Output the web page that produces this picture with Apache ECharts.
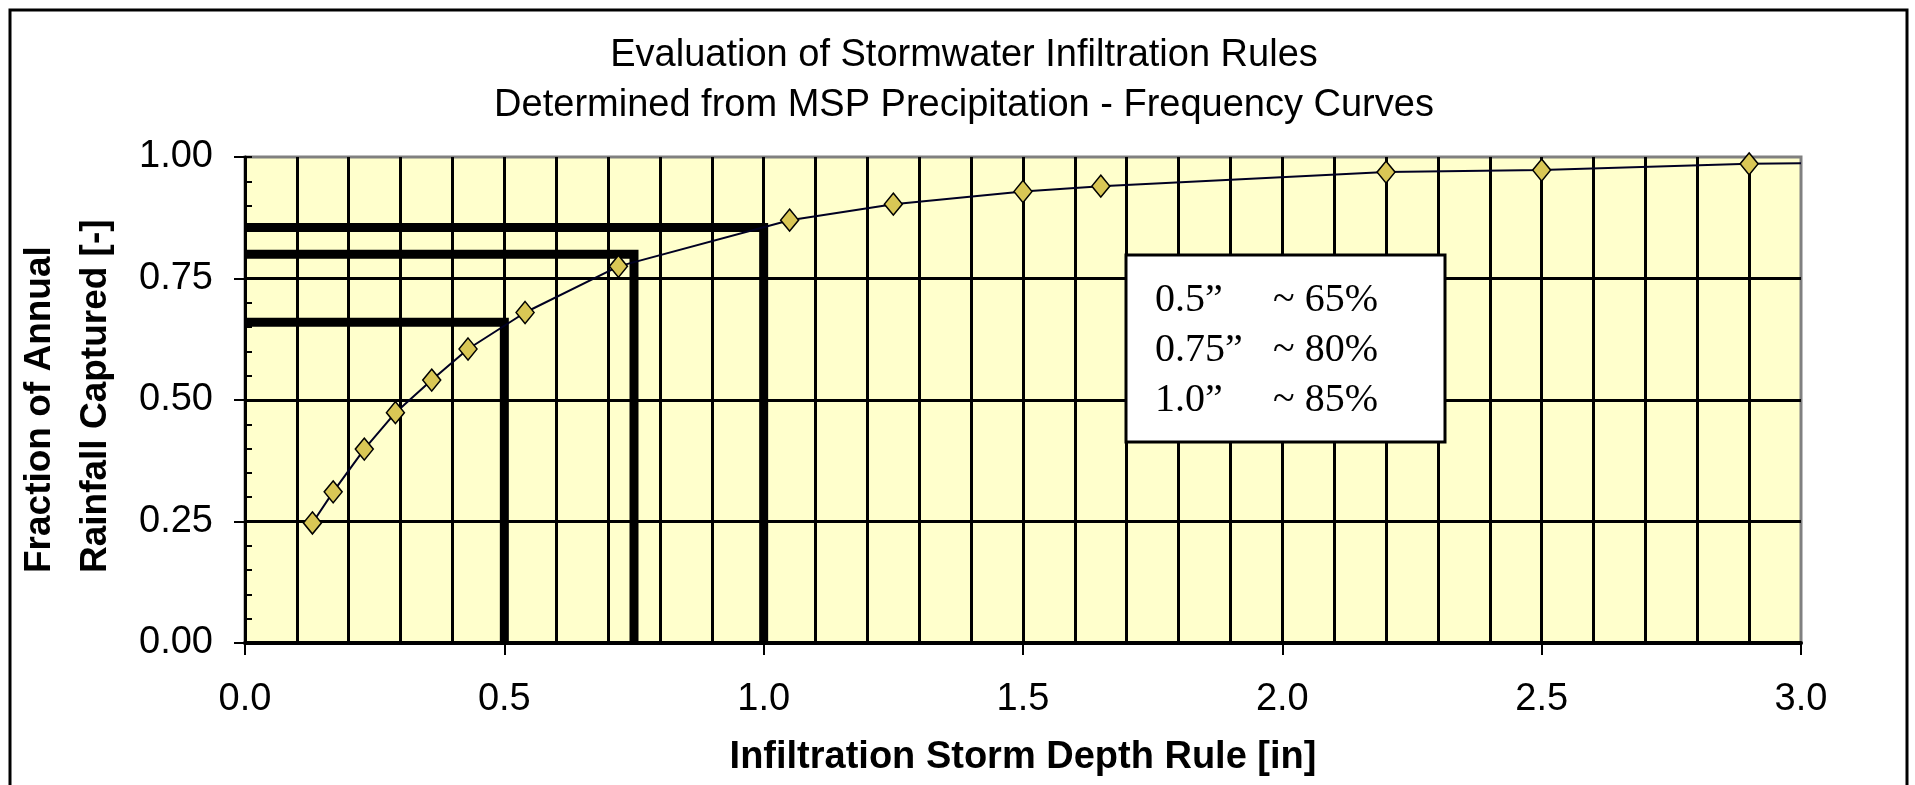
<!DOCTYPE html>
<html>
<head>
<meta charset="utf-8">
<title>Evaluation of Stormwater Infiltration Rules</title>
<script src="https://cdn.jsdelivr.net/npm/echarts@6/dist/echarts.min.js"></script>
<style>
html, body { margin: 0; padding: 0; background: #fff; }
#chart { width: 1915px; height: 785px; }
</style>
</head>
<body>
<div id="chart"></div>
<script>
// values
var curveX = [0.13, 0.17, 0.23, 0.29, 0.36, 0.43, 0.54, 0.72, 1.05, 1.25, 1.5, 1.65, 2.2, 2.5, 2.9];
var curveY = [0.247, 0.311, 0.399, 0.474, 0.541, 0.605, 0.680, 0.775, 0.870, 0.903, 0.929, 0.940, 0.969, 0.973, 0.986];
var curveEnd = [3.0, 0.987]; // line runs on to the edge, no marker
var ruleDepth = [0.5, 0.75, 1.0];
var ruleCapture = [0.66, 0.80, 0.855];
var noteDepth = ['0.5\u201d', '0.75\u201d', '1.0\u201d'];
var notePct = ['~ 65%', '~ 80%', '~ 85%'];
var titleLines = ['Evaluation of Stormwater Infiltration Rules', 'Determined from MSP Precipitation - Frequency Curves'];
var yTitle = ['Fraction of Annual', 'Rainfall Captured [-]'];
var xTitle = 'Infiltration Storm Depth Rule [in]';

var SANS = "'Liberation Sans', Arial, sans-serif";
var SERIF = "'Liberation Serif', 'Times New Roman', serif";

var chart = echarts.init(document.getElementById('chart'));

var curveData = curveX.map(function (x, i) { return [x, curveY[i]]; });
curveData.push({ value: curveEnd, symbol: 'none' });

var series = ruleDepth.map(function (d, i) {
	return {
		type: 'line',
		data: [[0, ruleCapture[i]], [d, ruleCapture[i]], [d, 0]],
		symbol: 'none',
		lineStyle: { color: '#000', width: 9, join: 'miter' },
		z: 3,
		silent: true
	};
});
series.push({
	type: 'line',
	data: curveData,
	symbol: 'diamond',
	symbolSize: [18, 22],
	itemStyle: { color: '#d9c755', borderColor: '#000', borderWidth: 1.5 },
	lineStyle: { color: '#000022', width: 2 },
	z: 5
});

chart.setOption({
	animation: false,
	backgroundColor: '#fff',
	title: {
		text: titleLines.join('\n'),
		left: 964,
		top: 31,
		textAlign: 'center',
		padding: 0,
		textStyle: { fontFamily: SANS, fontSize: 38, fontWeight: 'normal', color: '#000', lineHeight: 50 }
	},
	grid: {
		left: 245, right: 114, top: 157, bottom: 142,
		show: true,
		backgroundColor: '#ffffcc',
		borderColor: '#808080',
		borderWidth: 3
	},
	xAxis: {
		type: 'value',
		min: 0, max: 3, interval: 0.5,
		name: xTitle,
		nameLocation: 'middle',
		nameGap: 96,
		nameTextStyle: { fontFamily: SANS, fontSize: 38, fontWeight: 'bold', color: '#000' },
		axisLine: { lineStyle: { color: '#000', width: 4 } },
		axisTick: { length: 12, lineStyle: { color: '#000', width: 2 } },
		axisLabel: {
			margin: 38, fontFamily: SANS, fontSize: 38, color: '#000',
			formatter: function (v) { return v.toFixed(1); }
		},
		splitLine: { show: true, showMaxLine: false, lineStyle: { color: '#000', width: 3 } },
		minorTick: { show: false, splitNumber: 5 },
		minorSplitLine: { show: true, lineStyle: { color: '#000', width: 3 } }
	},
	yAxis: [{
		type: 'value',
		min: 0, max: 1, interval: 0.25,
		position: 'left',
		axisLine: { show: true, lineStyle: { color: '#000', width: 3 } },
		axisTick: { show: true, length: 11, lineStyle: { color: '#000', width: 2 } },
		axisLabel: {
			margin: 32, fontFamily: SANS, fontSize: 38, color: '#000',
			formatter: function (v) { return v.toFixed(2); }
		},
		splitLine: { show: true, showMaxLine: false, lineStyle: { color: '#000', width: 3 } }
	}, {
		// inward minor ticks every 0.05
		type: 'value',
		min: 0, max: 1, interval: 0.05,
		position: 'left',
		axisLine: { show: false },
		axisTick: { show: true, inside: true, length: 7, lineStyle: { color: '#000', width: 2 } },
		axisLabel: { show: false },
		splitLine: { show: false }
	}],
	graphic: [
		{
			type: 'rect', z: 0, silent: true,
			shape: { x: 10, y: 10, width: 1897, height: 800 },
			style: { fill: 'none', stroke: '#000', lineWidth: 3 }
		},
		{
			type: 'text', z: 100, x: 68, y: 573, rotation: Math.PI / 2,
			style: {
				text: yTitle.join('\n'), fill: '#000',
				fontFamily: SANS, fontSize: 37, fontWeight: 'bold', lineHeight: 56,
				align: 'left', verticalAlign: 'middle'
			}
		},
		{
			type: 'rect', z: 100,
			shape: { x: 1126, y: 255, width: 319, height: 187 },
			style: { fill: '#fff', stroke: '#000', lineWidth: 3 }
		},
		{
			type: 'text', z: 101, x: 1155, y: 350,
			style: {
				text: noteDepth.join('\n'), fill: '#000',
				fontFamily: SERIF, fontSize: 40, lineHeight: 50,
				align: 'left', verticalAlign: 'middle'
			}
		},
		{
			type: 'text', z: 101, x: 1273, y: 350,
			style: {
				text: notePct.join('\n'), fill: '#000',
				fontFamily: SERIF, fontSize: 40, lineHeight: 50,
				align: 'left', verticalAlign: 'middle'
			}
		}
	],
	series: series
});
</script>
</body>
</html>
